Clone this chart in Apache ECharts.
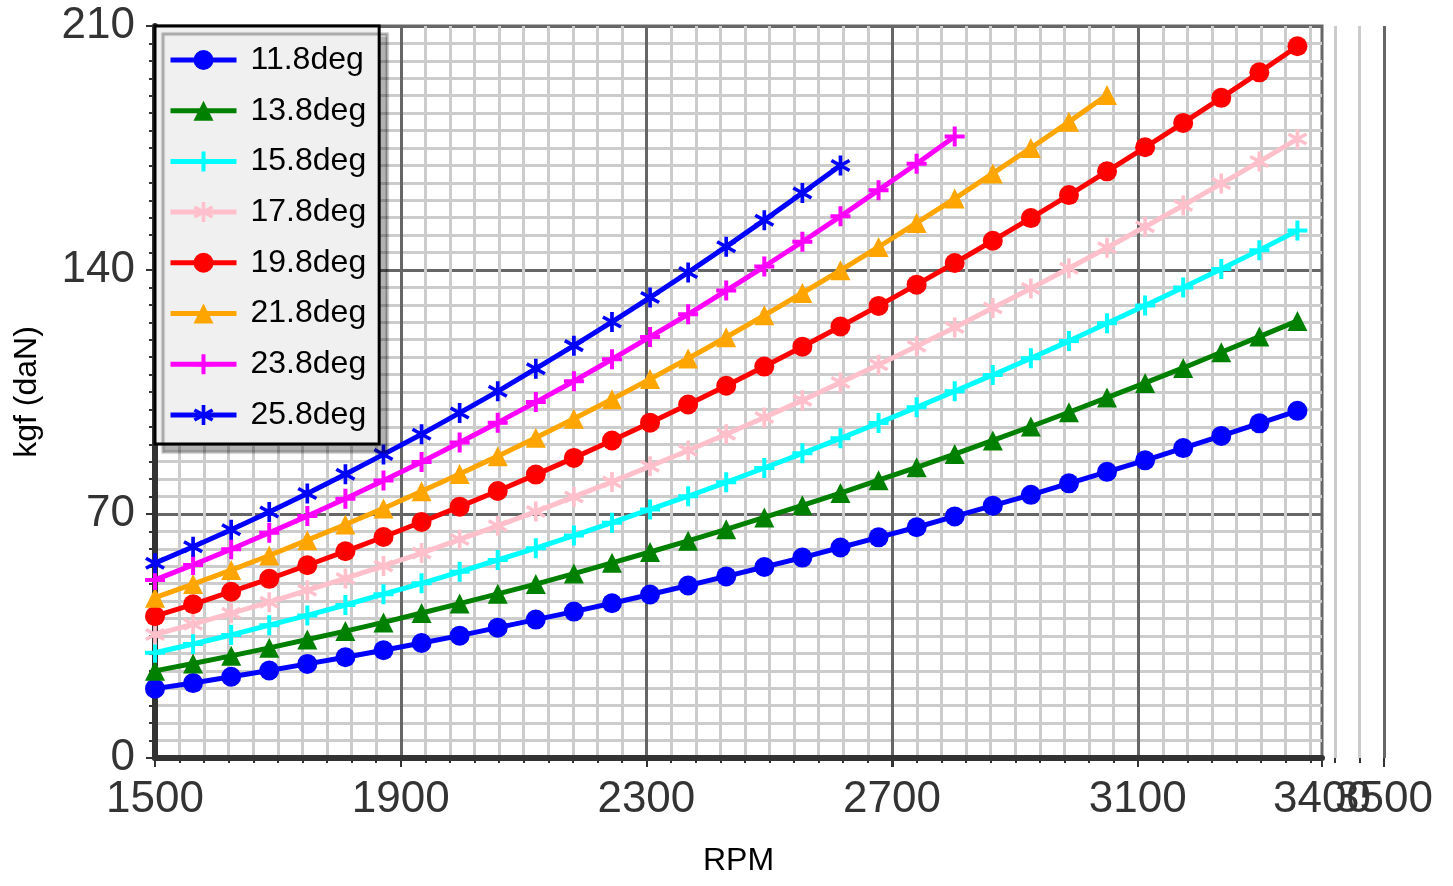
<!DOCTYPE html>
<html>
<head>
<meta charset="utf-8">
<script src="https://cdn.jsdelivr.net/npm/echarts@6/dist/echarts.min.js"></script>
<style>
  html, body { margin: 0; padding: 0; background: #fff; }
  #chart { width: 1453px; height: 886px; }
</style>
</head>
<body>
<div id="chart"></div>
<script>
// ---------- data ----------
const rpm = [1500,1562,1624,1686,1748,1810,1872,1934,1996,2058,2120,2182,2244,2306,2368,2430,2492,2554,2616,2678,2740,2802,2864,2926,2988,3050,3112,3174,3236,3298,3360];

const deg11_8 = [19.9,21.5,23.3,25.1,27.0,28.9,30.9,33.0,35.1,37.4,39.7,42.0,44.4,46.9,49.5,52.1,54.8,57.5,60.4,63.3,66.2,69.3,72.4,75.5,78.8,82.1,85.4,88.9,92.4,96.0,99.6];
const deg13_8 = [25.0,27.1,29.3,31.6,34.0,36.4,38.9,41.6,44.3,47.1,49.9,52.9,56.0,59.1,62.3,65.6,69.0,72.5,76.0,79.7,83.4,87.2,91.1,95.1,99.2,103.4,107.6,111.9,116.4,120.9,125.4];
const deg15_8 = [30.2,32.7,35.3,38.1,40.9,43.9,47.0,50.1,53.4,56.8,60.2,63.8,67.5,71.3,75.1,79.1,83.2,87.4,91.7,96.1,100.6,105.2,109.9,114.7,119.6,124.7,129.8,135.0,140.3,145.7,151.3];
const deg17_8 = [35.4,38.4,41.5,44.7,48.1,51.5,55.1,58.8,62.7,66.6,70.7,74.9,79.2,83.7,88.2,92.9,97.7,102.6,107.7,112.8,118.1,123.5,129.1,134.7,140.5,146.4,152.4,158.5,164.8,171.1,177.6];
const deg19_8 = [40.7,44.1,47.7,51.4,55.3,59.3,63.4,67.7,72.1,76.6,81.3,86.1,91.1,96.2,101.4,106.8,112.3,118.0,123.8,129.7,135.8,142.0,148.4,154.9,161.5,168.3,175.2,182.2,189.4,196.7,204.2];
const deg21_8 = [46.0,49.9,53.9,58.1,62.5,67.0,71.6,76.5,81.5,86.6,91.9,97.3,102.9,108.7,114.6,120.7,127.0,133.4,139.9,146.6,153.5,160.5,167.7,175.0,182.5,190.2];
const deg23_8 = [51.1,55.4,59.9,64.6,69.4,74.4,79.6,84.9,90.5,96.2,102.1,108.1,114.4,120.8,127.3,134.1,141.0,148.1,155.4,162.9,170.5,178.3];
const deg25_8 = [55.9,60.6,65.5,70.6,75.9,81.4,87.1,92.9,99.0,105.2,111.7,118.3,125.1,132.1,139.3,146.7,154.3,162.1,170.0];

const seriesNames = ['11.8deg','13.8deg','15.8deg','17.8deg','19.8deg','21.8deg','23.8deg','25.8deg'];
const seriesValues = [deg11_8, deg13_8, deg15_8, deg17_8, deg19_8, deg21_8, deg23_8, deg25_8];

const xTickMin = 1500, xTickMax = 3400, xOuterMax = 3500, xInterval = 400;
const yMin = 0, yMax = 210, yInterval = 70;

// ---------- styles ----------
const FONT = 'Liberation Sans, Arial, sans-serif';
const colors = ['#0000ff','#008000','#00ffff','#ffc0cb','#ff0000','#ffa500','#ff00ff','#0000ff'];
const PLUS = 'path://M-2,-10H2V-2H10V2H2V10H-2V2H-10V-2H-2Z';
const STAR = 'path://M1.75,-10L1.75,10L-1.75,10L-1.75,-10Z' +
             'M-7.785,-6.516L9.535,3.484L7.785,6.516L-9.535,-3.484Z' +
             'M9.535,-3.484L-7.785,6.516L-9.535,3.484L7.785,-6.516Z';
const symbols = ['circle','triangle',PLUS,STAR,'circle','triangle',PLUS,STAR];

const series = seriesNames.map((name, i) => ({
  name: name,
  type: 'line',
  xAxisIndex: 0,
  yAxisIndex: 0,
  data: seriesValues[i].map((v, j) => [rpm[j], v]),
  symbol: symbols[i],
  symbolSize: 20,
  showAllSymbol: true,
  lineStyle: { width: 5, color: colors[i] },
  itemStyle: { color: colors[i] },
  emphasis: { disabled: true },
  animation: false,
  z: 3
}));

const chart = echarts.init(document.getElementById('chart'), null, { renderer: 'canvas' });
chart.setOption({
  animation: false,
  backgroundColor: '#ffffff',
  grid: [
    { left: 155, top: 26, width: 1167, height: 732, show: true, borderColor: '#666', borderWidth: 3, backgroundColor: 'transparent' },
    { left: 155, top: 26, width: 1229, height: 732, show: false }
  ],
  legend: {
    orient: 'vertical',
    left: 155,
    top: 26,
    padding: [18, 13, 13, 13],
    itemGap: 18.7,
    itemWidth: 66,
    itemHeight: 25,
    backgroundColor: '#f0f0f0',
    borderColor: '#000',
    borderWidth: 3,
    borderRadius: 0,
    shadowColor: 'rgba(0,0,0,0.3)',
    shadowBlur: 1,
    shadowOffsetX: 8,
    shadowOffsetY: 8,
    lineStyle: { width: 5 },
    textStyle: { fontSize: 32, color: '#000', fontFamily: FONT, padding: [0, 0, 0, 9] },
    data: seriesNames,
    selectedMode: false
  },
  xAxis: [
    {
      type: 'value', gridIndex: 0,
      min: xTickMin, max: xTickMax, interval: xInterval,
      name: 'RPM', nameLocation: 'middle', nameGap: 87,
      nameTextStyle: { fontSize: 32, color: '#000', fontFamily: FONT },
      axisLine: { show: true, onZero: false, lineStyle: { color: '#333', width: 6 } },
      axisTick: { show: true, length: 9, lineStyle: { color: '#333', width: 2 } },
      minorTick: { show: false },
      splitLine: { show: false },
      minorSplitLine: { show: false },
      axisLabel: { fontSize: 44, color: '#333', fontFamily: FONT, margin: 20, showMinLabel: true, showMaxLabel: true,
        formatter: v => String(v) }
    },
    {
      type: 'value', gridIndex: 1,
      min: xTickMin, max: xOuterMax, interval: xInterval,
      axisLine: { show: false },
      axisTick: { show: true, length: 9, lineStyle: { color: '#333', width: 2 } },
      minorTick: { show: true, splitNumber: 10, length: 5, lineStyle: { color: '#333', width: 2 } },
      splitLine: { show: true, lineStyle: { color: '#666', width: 3 } },
      minorSplitLine: { show: true, lineStyle: { color: '#cccccc', width: 3 } },
      axisLabel: { fontSize: 44, color: '#333', fontFamily: FONT, margin: 20, showMaxLabel: true,
        formatter: v => (v === xOuterMax ? String(v) : '') }
    }
  ],
  yAxis: [
    {
      type: 'value', gridIndex: 0,
      min: yMin, max: yMax, interval: yInterval,
      name: 'kgf (daN)', nameLocation: 'middle', nameGap: 112,
      nameTextStyle: { fontSize: 32, color: '#000', fontFamily: FONT },
      axisLine: { show: true, onZero: false, lineStyle: { color: '#333', width: 6 } },
      axisTick: { show: true, length: 9, lineStyle: { color: '#333', width: 2 } },
      minorTick: { show: true, splitNumber: 14, length: 6, lineStyle: { color: '#333', width: 2 } },
      splitLine: { show: true, lineStyle: { color: '#666', width: 3 } },
      minorSplitLine: { show: true, lineStyle: { color: '#cccccc', width: 3 } },
      axisLabel: { fontSize: 44, color: '#333', fontFamily: FONT, margin: 20, formatter: v => String(v) }
    },
    { type: 'value', gridIndex: 1, min: yMin, max: yMax, show: false }
  ],
  series: series
});
</script>
</body>
</html>
